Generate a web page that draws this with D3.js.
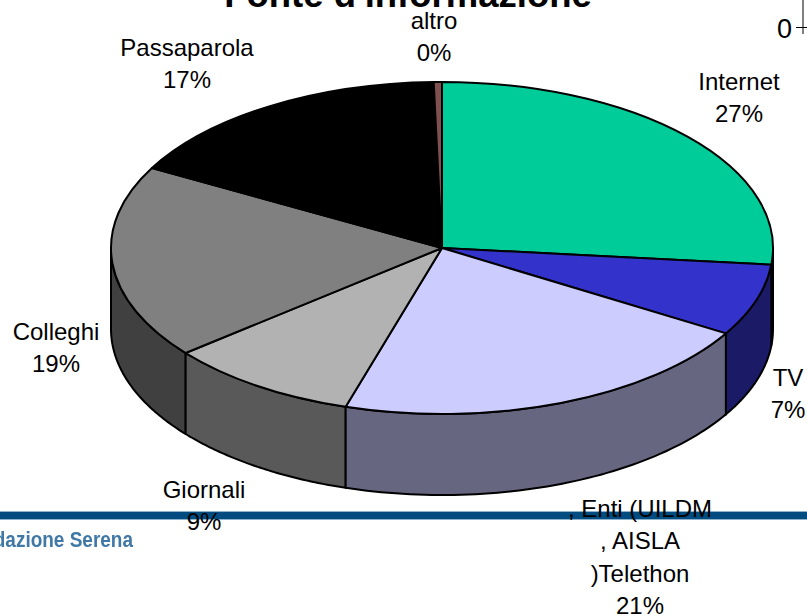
<!DOCTYPE html>
<html><head><meta charset="utf-8">
<script src="https://cdn.jsdelivr.net/npm/d3@7"></script>
<style>html,body{margin:0;background:#fff}svg{display:block}text{font-family:"Liberation Sans",Arial,sans-serif;fill:#000}</style>
</head><body><svg id="c" width="807" height="616"></svg>
<script>
const categories = ["Internet","TV","Enti (UILDM, AISLA) Telethon","Giornali","Colleghi","Passaparola","altro"];
const values = [26.6,7,21.1,9.4,18.9,16.6,0.4];
const percentLabels = ["27%","7%","21%","9%","19%","17%","0%"];
const labelLines = [["Internet"],["TV"],[", Enti (UILDM",", AISLA",")Telethon"],["Giornali"],["Colleghi"],["Passaparola"],["altro"]];
const topColors = ["#00CC99","#3333CC","#CCCCFF","#B2B2B2","#808080","#000000","#805050"];
const sideColors = ["#006650","#1A1A66","#666680","#595959","#404040","#000000","#402828"];
const axisTicks = [0];

const labelAt = [[739,90],[788,386],[640,517],[204,498],[56,340],[187,56],[434,28.5]];
const cx=442, cy=248, rx=331, ry=166, depth=81, fs=24, lh=32.3;
const svg=d3.select("#c");

// footer band and logo text behind the chart
const band=svg.append("g");
band.append("rect").attr("x",0).attr("y",511).attr("width",807).attr("height",9).attr("fill","#8FB2CC");
band.append("rect").attr("x",0).attr("y",512).attr("width",807).attr("height",7).attr("fill","#004B80");
svg.append("defs").append("filter").attr("id","b").append("feGaussianBlur").attr("stdDeviation",0.6);
svg.append("text").attr("x",133).attr("y",547).attr("text-anchor","end")
  .attr("font-size",22).attr("font-weight","bold").attr("filter","url(#b)")
  .attr("textLength",174).attr("lengthAdjust","spacingAndGlyphs")
  .style("fill","#3F78A6").text("Fondazione Serena");

// axis remnant
const yAxisScale=d3.scaleLinear().domain([0,1]).range([27,-20]);
const ag=svg.append("g").attr("transform","translate(803,0)").attr("class","ax")
  .call(d3.axisLeft(yAxisScale).tickValues(axisTicks).tickSize(7).tickPadding(5).tickFormat(d3.format("d")));
ag.select(".domain").attr("stroke","#000").attr("d","M0,-1V34");
ag.selectAll(".tick line").attr("stroke","#000").attr("x2",4).attr("x1",-7);
ag.selectAll(".tick text").attr("font-size",27).attr("font-family",'"Liberation Sans",Arial,sans-serif').attr("dy","0.4em").attr("x",-11);

// pie
const arcs=d3.pie().sort(null).value(d=>d)(values);
const px=t=>cx+rx*Math.sin(t), py=t=>cy-ry*Math.cos(t);

// side walls, visible where the rim faces the viewer
const wall=svg.append("g");
const order=arcs.map((a,i)=>({a,i})).filter(o=>o.a.endAngle>Math.PI/2&&o.a.startAngle<3*Math.PI/2);
order.sort((p,q)=>Math.abs((p.a.startAngle+p.a.endAngle)/2-Math.PI)-Math.abs((q.a.startAngle+q.a.endAngle)/2-Math.PI)).reverse();
const line=d3.line().x(d=>d[0]).y(d=>d[1]);
order.forEach(({a,i})=>{
  const s=Math.max(a.startAngle,Math.PI/2), e=Math.min(a.endAngle,3*Math.PI/2);
  const n=60, ts=d3.range(n+1).map(k=>s+(e-s)*k/n);
  const pts=[...ts.map(t=>[px(t),py(t)]),...ts.slice().reverse().map(t=>[px(t),py(t)+depth])];
  wall.append("path").attr("d",line(pts)+"Z").attr("fill",sideColors[i]).attr("stroke","#000").attr("stroke-width",2).attr("stroke-linejoin","round");
});

// top face
const topFace=svg.append("g").attr("transform",`translate(${cx},${cy}) scale(1,${ry/rx})`);
const arc=d3.arc().innerRadius(0).outerRadius(rx);
topFace.selectAll("path").data(arcs).join("path").attr("d",arc)
  .attr("fill",(d,i)=>topColors[i]).attr("stroke","#000").attr("stroke-width",2).attr("stroke-linejoin","round")
  .attr("vector-effect","non-scaling-stroke");

// title
svg.append("text").attr("x",408).attr("y",7).attr("text-anchor","middle")
  .attr("font-size",36.5).attr("font-weight","bold").text("Fonte d'informazione");

// labels
labelLines.forEach((ls,i)=>{
  const t=svg.append("text").attr("text-anchor","middle").attr("font-size",fs);
  [...ls,percentLabels[i]].forEach((s,k)=>t.append("tspan").attr("x",labelAt[i][0]).attr("y",labelAt[i][1]+k*lh).text(s));
});
</script></body></html>
